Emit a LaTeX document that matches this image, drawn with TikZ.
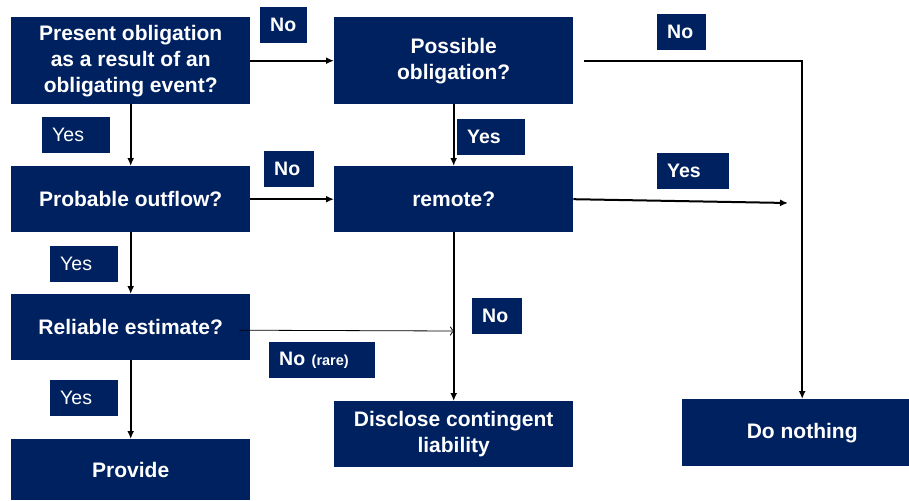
\documentclass[tikz,border=0pt]{standalone}
\usepackage{fontspec}
\setmainfont{Liberation Sans}
\usetikzlibrary{arrows.meta}
\definecolor{navy}{RGB}{0,33,96}

\tikzset{
    box/.style={fill=navy, text=white, anchor=north west, inner sep=0pt, align=center,
        minimum width=239pt, minimum height=#1, font=\fontsize{21}{26}\selectfont\bfseries},
    tag/.style={fill=navy, text=white, anchor=north west, inner xsep=10pt, inner ysep=0pt,
        text width=#1, minimum height=36pt, font=\fontsize{19.5}{22}\selectfont},
    flow/.style={line width=2pt, -{Latex[length=8pt,width=7pt]}},
    rare/.style={line width=0.8pt, -{To[length=5pt,width=9pt]}}
}

\begin{document}
\begin{tikzpicture}[x=1pt, y=-1pt]
            \useasboundingbox (0, 0) rectangle (909, 500);

            \node[box=87pt] (obl) at (11, 17) {Present obligation\\as a result of an\\obligating event?};
            \node[box=87pt] (poss) at (334, 17) {Possible\\obligation?};
            \node[box=66pt] (outflow) at (11, 166) {Probable outflow?};
            \node[box=66pt] (remote) at (334, 166) {remote?};
            \node[box=66pt] (estimate) at (11, 294) {Reliable estimate?};
            \node[box=61pt] (provide) at (11, 439) {Provide};
            \node[box=66pt] (disclose) at (334, 401) {Disclose contingent\\liability};
            \node[box=67pt, minimum width=240pt] (nothing) at (682, 399) {Do nothing};

            \foreach \name/\x/\y/\w/\txt in {noA/260/7/27/\bfseries No, yesA/42/117/48/Yes,
                    noB/264/151/30/\bfseries No, yesB/457/119/48/\bfseries Yes,
                    noC/657/14/29/\bfseries No, yesC/657/153/52/\bfseries Yes,
                    yesD/50/246/48/Yes, noD/472/298/30/\bfseries No,
                    rareA/269/342/86/{\bfseries No {\fontsize{14.5}{16}\selectfont(rare)}},
                    yesE/50/380/48/Yes} {
                \node[tag=\w pt] (\name) at (\x, \y) {\txt};
            }

            \coordinate (yesend) at (788, 203);
            \coordinate (rareend) at (455, 331);

            \draw[flow] (obl.east) -- (poss.west);
            \draw[flow] (obl.south) -- (outflow.north);
            \draw[flow] ([xshift=11pt]poss.east) -| (nothing.north);
            \draw[flow] (poss.south) -- (remote.north);
            \draw[flow] (outflow.east) -- (remote.west);
            \draw[flow] (remote.east) -- (yesend);
            \draw[flow] (outflow.south) -- (estimate.north);
            \draw[flow] (remote.south) -- (disclose.north);
            \draw[rare] ([xshift=-11pt, yshift=-3pt]estimate.east) -- (rareend);
            \draw[flow] (estimate.south) -- (provide.north);

        \end{tikzpicture}
\end{document}
